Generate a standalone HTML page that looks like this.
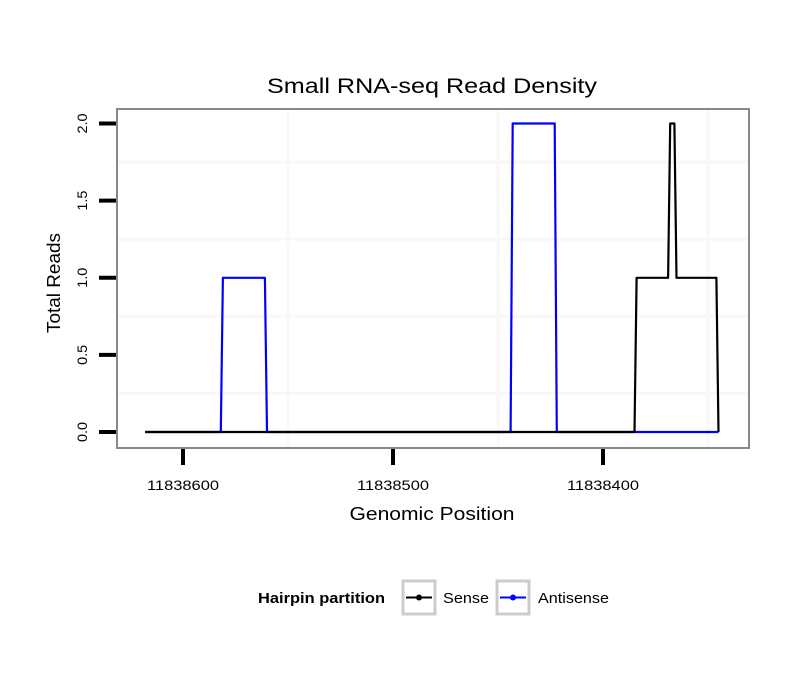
<!DOCTYPE html>
<html><head><meta charset="utf-8"><style>
body{margin:0;background:#fff;font-family:"Liberation Sans",sans-serif}
</style></head><body>
<svg id="chart" width="810" height="690" xmlns="http://www.w3.org/2000/svg" font-family="Liberation Sans, sans-serif">
<text x="432" y="93" font-size="21" text-anchor="middle" textLength="330" lengthAdjust="spacingAndGlyphs">Small RNA-seq Read Density</text>
<rect x="117" y="109" width="632" height="339" fill="#fff"/>
<g id="grid"></g>
<g id="series"></g>
<rect x="117" y="109" width="632" height="339" fill="none" stroke="#888" stroke-width="2"/>
<g id="axes"></g>
<text x="432" y="520" font-size="18" text-anchor="middle" textLength="165" lengthAdjust="spacingAndGlyphs">Genomic Position</text>
<text transform="translate(60,283) rotate(-90)" font-size="18" text-anchor="middle" textLength="100" lengthAdjust="spacingAndGlyphs">Total Reads</text>
<g>
<text x="258" y="603" font-size="15" font-weight="bold" textLength="127" lengthAdjust="spacingAndGlyphs">Hairpin partition</text>
<g>
<rect x="403" y="581" width="32" height="33" fill="#fff" stroke="#ccc" stroke-width="3"/>
<line x1="406" y1="597.5" x2="432" y2="597.5" stroke="#000" stroke-width="2"/>
<circle cx="419" cy="597.5" r="3" fill="#000"/>
<text x="443" y="603" font-size="15" textLength="46" lengthAdjust="spacingAndGlyphs">Sense</text>
</g>
<g>
<rect x="497" y="581" width="32" height="33" fill="#fff" stroke="#ccc" stroke-width="3"/>
<line x1="500" y1="597.5" x2="526" y2="597.5" stroke="#00f" stroke-width="2"/>
<circle cx="513" cy="597.5" r="3" fill="#00f"/>
<text x="538" y="603" font-size="15" textLength="71" lengthAdjust="spacingAndGlyphs">Antisense</text>
</g>
</g>
</svg>
<script>
const xTicks = [11838600, 11838500, 11838400];
const yTicks = [0, 0.5, 1.0, 1.5, 2.0];
const senseX = [11838618, 11838385, 11838384, 11838369, 11838368, 11838366, 11838365, 11838346, 11838345];
const senseY = [0, 0, 1, 1, 2, 2, 1, 1, 0];
const antiX = [11838618, 11838582, 11838581, 11838561, 11838560, 11838444, 11838443, 11838423, 11838422, 11838345];
const antiY = [0, 0, 1, 1, 0, 0, 2, 2, 0, 0];

const NS = "http://www.w3.org/2000/svg";
function xs(v){return 183 + (11838600 - v) * 2.1;}
function ys(v){return 432 - v * 154.25;}
function mk(tag, attrs, parent){const e=document.createElementNS(NS,tag);for(const k in attrs)e.setAttribute(k,attrs[k]);parent.appendChild(e);return e;}
const grid=document.getElementById('grid'), axes=document.getElementById('axes'), series=document.getElementById('series');
const gridCol='#f8f8f8';
for(let i=0;i<xTicks.length-1;i++){
  const gx=xs((xTicks[i]+xTicks[i+1])/2);
  const l=mk('line',{x1:gx,x2:gx,y1:110,y2:447,stroke:gridCol,'stroke-width':3},grid);
  
  
}
{const gx=xs(xTicks[xTicks.length-1]-50);
 const l=mk('line',{x1:gx,x2:gx,y1:110,y2:447,stroke:gridCol,'stroke-width':3},grid);
 
 }
for(let i=0;i<yTicks.length-1;i++){
  const gy=ys((yTicks[i]+yTicks[i+1])/2);
  const l=mk('line',{x1:118,x2:748,y1:gy,y2:gy,stroke:gridCol,'stroke-width':3},grid);
  
  
}
xTicks.forEach(v=>{
  const t=mk('line',{x1:xs(v),x2:xs(v),y1:449,y2:465,stroke:'#000','stroke-width':4},axes);
  
  
  const tx=mk('text',{x:xs(v),y:490,'font-size':14,'text-anchor':'middle',textLength:72,lengthAdjust:'spacingAndGlyphs'},axes);
  tx.textContent=v;
  
  
});
yTicks.forEach(v=>{
  const t=mk('line',{x1:99,x2:116,y1:ys(v),y2:ys(v),stroke:'#000','stroke-width':4},axes);
  
  
  const tx=mk('text',{transform:`translate(87,${ys(v)}) rotate(-90)`,'font-size':14,'text-anchor':'middle',textLength:20,lengthAdjust:'spacingAndGlyphs'},axes);
  tx.textContent=v.toFixed(1);
  
  
});
function pts(X,Y){return X.map((x,i)=>xs(x).toFixed(1)+','+ys(Y[i]).toFixed(1)).join(' ');}
const a=mk('polyline',{points:pts(antiX,antiY),fill:'none',stroke:'#00f','stroke-width':2.2,'stroke-linejoin':'round'},series);


const s=mk('polyline',{points:pts(senseX,senseY),fill:'none',stroke:'#000','stroke-width':2.2,'stroke-linejoin':'round'},series);


</script>
</body></html>
